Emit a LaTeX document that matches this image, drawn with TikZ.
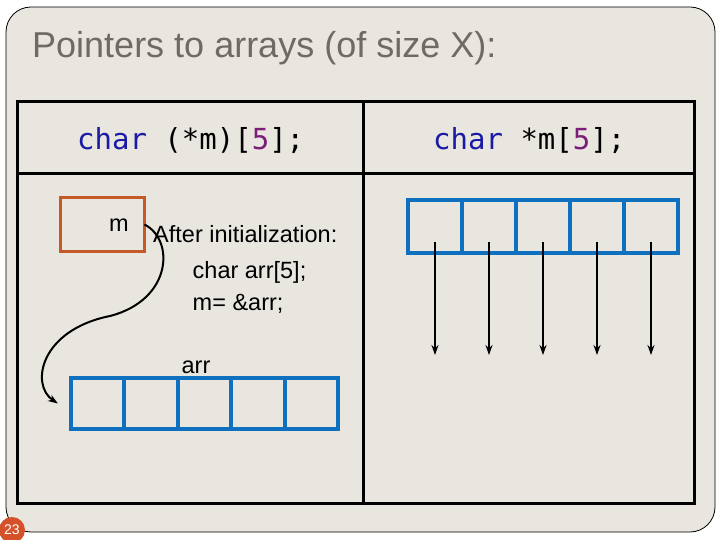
\documentclass[tikz,border=0pt]{standalone}
\usepackage{fontspec}
\setmainfont{Liberation Sans}
\setmonofont{DejaVu Sans Mono}
\usepackage{tikz}
\usetikzlibrary{arrows.meta, positioning, calc}
\definecolor{slide-bg}{HTML}{E9E5DF}
\definecolor{slide-title}{HTML}{6E6A65}
\definecolor{cell-blue}{HTML}{1070C0}
\definecolor{box-orange}{HTML}{C55A28}
\definecolor{num-red}{HTML}{D4512A}
\definecolor{kw-blue}{HTML}{1A1AA6}
\definecolor{num-purple}{HTML}{7A1E7A}

\begin{document}
\begin{tikzpicture}[x=1pt, y=-1pt,
    cell/.style={draw=cell-blue, line width=4pt, minimum width=53.5pt, minimum height=51pt, inner sep=0pt, outer sep=0pt},
    ptrbox/.style={draw=box-orange, line width=3pt, minimum width=84pt, minimum height=53pt, inner sep=0pt, outer sep=0pt},
    decl/.style={font=\ttfamily\fontsize{29}{32}\selectfont, anchor=base west, inner sep=0pt},
    txt/.style={font=\fontsize{23.5}{27}\selectfont, anchor=base west, inner sep=0pt},
    tableline/.style={line width=3pt},
    >={Stealth[length=10pt, width=7pt]}
]
    \useasboundingbox (0,0) rectangle (720,540);
    \fill[white] (0,0) rectangle (720,540);
    \draw[fill=slide-bg, rounded corners=25pt, line width=0.8pt] (6,7) rectangle (715,532);

    \node (title) [anchor=base west, inner sep=0pt, text=slide-title, font=\fontsize{36}{40}\selectfont] at (32,58) {Pointers to arrays (of size X):};

    % table
    \draw[tableline] (17,102) rectangle (694,503);
    \draw[tableline] (17,174) -- (694,174);
    \draw[tableline] (363,102) -- (363,503);

    \node (hleft) [decl] at (77,150) {\textcolor{kw-blue}{char} (*m)[\textcolor{num-purple}{5}];};
    \node (hright) [decl] at (433,150) {\textcolor{kw-blue}{char} *m[\textcolor{num-purple}{5}];};

    % left column
    \node (mbox) [ptrbox] at (102.5,224.5) {};
    \node (mname) [txt] at (109,232) {m};
    \node (init) [txt] at (153,242) {After initialization:};
    \node (line1) [txt] at (192.5,278) {char arr[5];};
    \node (line2) [txt] at (192.5,310) {m= \&arr;};
    \node (arrname) [txt, anchor=base] at (196,373) {arr};

    \node (arr1) [cell] at (97.7,403.5) {};
    \foreach \i [count=\j from 1] in {2,...,5}
        \node (arr\i) [cell, right=0pt of arr\j] {};

    \draw[->, line width=2pt] (mbox.east) .. controls (175,240) and (172,300) .. (110,316)
        .. controls (40,330) and (30,385) .. ([xshift=-13pt]arr1.west);

    % right column
    \node (ptr1) [cell, minimum width=54pt, minimum height=53pt] at (435,226.5) {};
    \foreach \i [count=\j from 1] in {2,...,5}
        \node (ptr\i) [cell, minimum width=54pt, minimum height=53pt, right=0pt of ptr\j] {};
    \foreach \i in {1,...,5} {
        \coordinate (tip\i) at (ptr\i.center |- 0,355);
        \draw[->, line width=2.2pt, shorten <=15pt] (ptr\i.center) -- (tip\i);
    }

    \node (slidenum) [circle, fill=num-red, text=white, minimum size=26pt, inner sep=0pt, font=\fontsize{14}{16}\selectfont] at (12,530) {23};
\end{tikzpicture}
\end{document}
